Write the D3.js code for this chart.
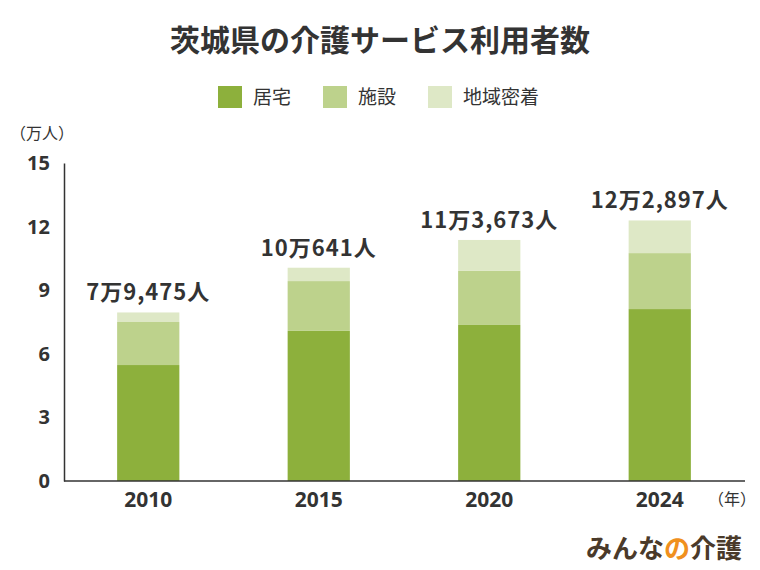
<!DOCTYPE html>
<html><head><meta charset="utf-8">
<script src="https://cdn.jsdelivr.net/npm/d3@7"></script>
<style>body{margin:0;background:#fff;font-family:"Noto Sans CJK JP","Noto Sans",sans-serif;}</style>
</head><body><svg id="c" width="760" height="570"></svg>
<script>
const years = ["2010","2015","2020","2024"];
const residential = [5.47, 7.08, 7.36, 8.11];
const facility = [2.03, 2.35, 2.55, 2.64];
const community = [0.45, 0.63, 1.46, 1.54];
const totalLabels = ["7万9,475人","10万641人","11万3,673人","12万2,897人"];
const seriesNames = ["居宅","施設","地域密着"];
const colors = ["#8db03c","#bdd28c","#dee8c6"];
const yTicks = [0,3,6,9,12,15];

const svg = d3.select("#c");
const x = d3.scaleBand().domain(years).range([63,745]).paddingInner(0.635).paddingOuter(0.3175);
const y = d3.scaleLinear().domain([0,15]).range([481,163]);

svg.append("text").attr("x",380).attr("y",51).attr("text-anchor","middle")
  .attr("font-size",30).attr("font-weight",700).attr("fill","#333").text("茨城県の介護サービス利用者数");

const lg = [[218,seriesNames[0]],[323,seriesNames[1]],[428,seriesNames[2]]];
lg.forEach((d,i)=>{
  svg.append("rect").attr("x",d[0]).attr("y",86).attr("width",24).attr("height",22).attr("fill",colors[i]);
  svg.append("text").attr("x",d[0]+35).attr("y",104).attr("font-size",19).attr("fill","#333").text(d[1]);
});

svg.append("text").attr("x",10).attr("y",139).attr("font-size",16).attr("fill","#333").text("（万人）");

const rows = years.map((yr,i)=>({yr, vals:[residential[i],facility[i],community[i]]}));
rows.forEach((r,i)=>{
  let acc=0;
  r.vals.forEach((v,k)=>{
    svg.append("rect").attr("x",x(r.yr)).attr("width",x.bandwidth())
      .attr("y",y(acc+v)).attr("height",y(acc)-y(acc+v)).attr("fill",colors[k]);
    acc+=v;
  });
  svg.append("text").attr("x",x(r.yr)+x.bandwidth()/2).attr("y",y(acc)-12)
    .attr("text-anchor","middle").attr("font-size",22).attr("letter-spacing",1).attr("font-weight",700).attr("fill","#333").text(totalLabels[i]);
});

const ya = svg.append("g").attr("transform","translate(64,0)")
  .call(d3.axisLeft(y).tickValues(yTicks).tickSize(0).tickPadding(14));
ya.select(".domain").attr("stroke","#333").attr("stroke-width",1.5);
ya.selectAll("text").attr("font-size",20).attr("font-weight",700).attr("fill","#333").attr("font-family","Noto Sans");

const xa = svg.append("g").attr("transform","translate(0,481)")
  .call(d3.axisBottom(x).tickSize(0).tickPadding(11));
xa.select(".domain").attr("stroke","#333").attr("stroke-width",1.5).attr("d","M64,0H745");
xa.selectAll("text").attr("font-size",21).attr("font-weight",700).attr("fill","#333").attr("font-family","Noto Sans");

svg.append("text").attr("x",708).attr("y",505).attr("font-size",16).attr("fill","#333").text("（年）");

const logo = svg.append("text").attr("x",742).attr("y",558).attr("text-anchor","end")
  .attr("font-size",26).attr("font-weight",700).attr("fill","#4a3a2a");
logo.append("tspan").text("みんな");
logo.append("tspan").attr("fill","#f0901e").text("の");
logo.append("tspan").text("介護");
</script></body></html>
